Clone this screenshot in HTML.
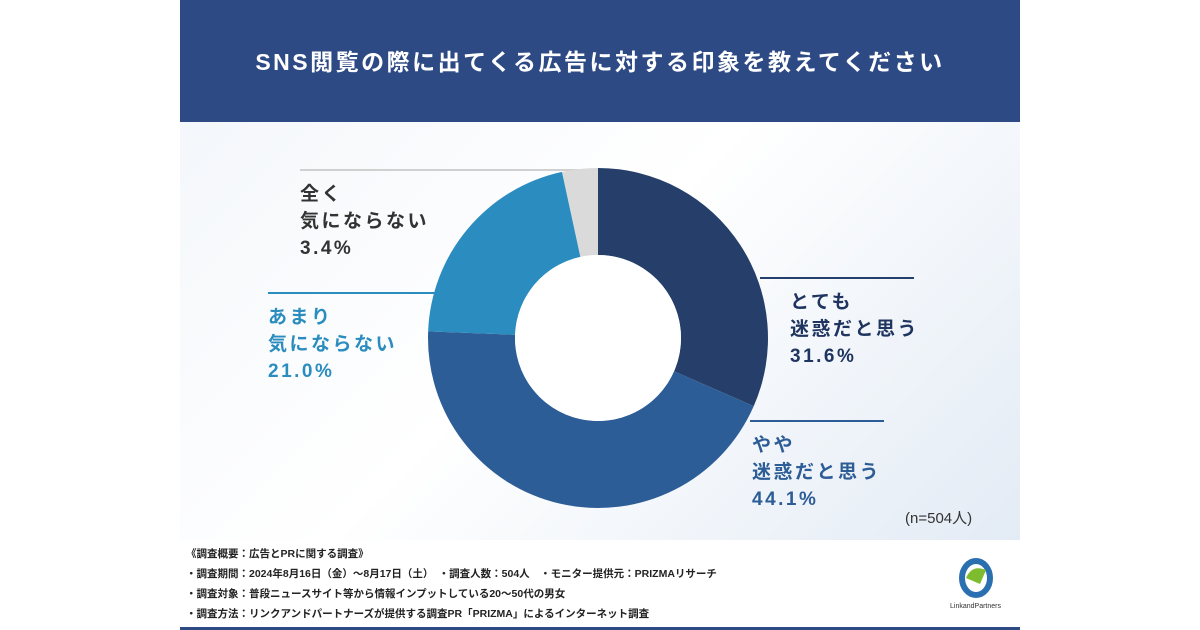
<!DOCTYPE html>
<html><head><meta charset="utf-8">
<style>
body{margin:0;width:1200px;height:630px;background:#fff;position:relative;overflow:hidden;font-family:"Liberation Sans","Noto Sans CJK JP",sans-serif}
.hdr{position:absolute;left:180px;top:0;width:840px;height:122px;background:#2e4a84;color:#fff;font-weight:bold;font-size:23px;letter-spacing:2.5px;text-align:center;line-height:124px}
.area{position:absolute;left:180px;top:122px;width:840px;height:418px;background:linear-gradient(135deg,#f4f7fb 0%,#ffffff 45%,#e3ebf5 100%)}
.lbl{position:absolute;font-weight:bold;font-size:19px;letter-spacing:2.5px;line-height:27px}
.foot{position:absolute;left:186px;font-size:10.5px;color:#222;font-weight:bold}
</style></head><body>
<div class="hdr">SNS閲覧の際に出てくる広告に対する印象を教えてください</div>
<div class="area"></div>
<svg id="chart" width="1200" height="630" style="position:absolute;left:0;top:0">
<line x1="300" y1="170" x2="598" y2="170" stroke="#d0d0d0" stroke-width="2"/>
<line x1="268" y1="293" x2="435" y2="293" stroke="#2b8dbf" stroke-width="2"/>
<line x1="760" y1="278" x2="914" y2="278" stroke="#243f6b" stroke-width="2"/>
<line x1="750" y1="421" x2="884" y2="421" stroke="#2d5d96" stroke-width="2"/>
</svg>
<div class="lbl" style="left:300px;top:181px;color:#333">全く<br>気にならない<br>3.4%</div>
<div class="lbl" style="left:268px;top:304px;color:#2b8dbf">あまり<br>気にならない<br>21.0%</div>
<div class="lbl" style="left:790px;top:289px;color:#1f3560">とても<br>迷惑だと思う<br>31.6%</div>
<div class="lbl" style="left:752px;top:432px;color:#2d5d96">やや<br>迷惑だと思う<br>44.1%</div>
<div style="position:absolute;left:905px;top:507px;font-size:15px;color:#333">(n=504人)</div>
<div class="foot" style="top:546px">《調査概要：広告とPRに関する調査》</div>
<div class="foot" style="top:566px">・調査期間：2024年8月16日（金）～8月17日（土）　・調査人数：504人　・モニター提供元：PRIZMAリサーチ</div>
<div class="foot" style="top:586px">・調査対象：普段ニュースサイト等から情報インプットしている20～50代の男女</div>
<div class="foot" style="top:606px">・調査方法：リンクアンドパートナーズが提供する調査PR「PRIZMA」によるインターネット調査</div>
<svg width="60" height="60" style="position:absolute;left:950px;top:556px">
<ellipse cx="26" cy="22" rx="14" ry="17" fill="none" stroke="#2a6fb0" stroke-width="6"/>
<path d="M16 22 Q22 8 36 14 L30 28 Z" fill="#7dbb2f"/>
<text x="0" y="52" font-size="7" fill="#333">LinkandPartners</text>
</svg>
<div style="position:absolute;left:180px;top:627px;width:840px;height:3px;background:#2e4a84"></div>
<script>
const categories=["とても迷惑だと思う","やや迷惑だと思う","あまり気にならない","全く気にならない"];
const values=[31.6,44.1,21.0,3.4];
const colors=["#253f6a","#2d5d96","#2b8dbf","#dadada"];
const svg=document.getElementById('chart');
const cx=598,cy=338,R=170,r=83;
const total=values.reduce((a,b)=>a+b,0);
function pt(a,rad){return [cx+rad*Math.sin(a),cy-rad*Math.cos(a)];}
let acc=0;
values.forEach((v,i)=>{
  const a0=acc/total*2*Math.PI;acc+=v;const a1=acc/total*2*Math.PI;
  const lg=(a1-a0)>Math.PI?1:0;
  const [x0,y0]=pt(a0,R),[x1,y1]=pt(a1,R),[x2,y2]=pt(a1,r),[x3,y3]=pt(a0,r);
  const p=document.createElementNS('http://www.w3.org/2000/svg','path');
  p.setAttribute('d',`M${x0},${y0}A${R},${R} 0 ${lg} 1 ${x1},${y1}L${x2},${y2}A${r},${r} 0 ${lg} 0 ${x3},${y3}Z`);
  p.setAttribute('fill',colors[i]);
  
  
  svg.appendChild(p);
});
const c=document.createElementNS('http://www.w3.org/2000/svg','circle');
c.setAttribute('cx',cx);c.setAttribute('cy',cy);c.setAttribute('r',r);c.setAttribute('fill','#fff');


svg.appendChild(c);
</script>
</body></html>
